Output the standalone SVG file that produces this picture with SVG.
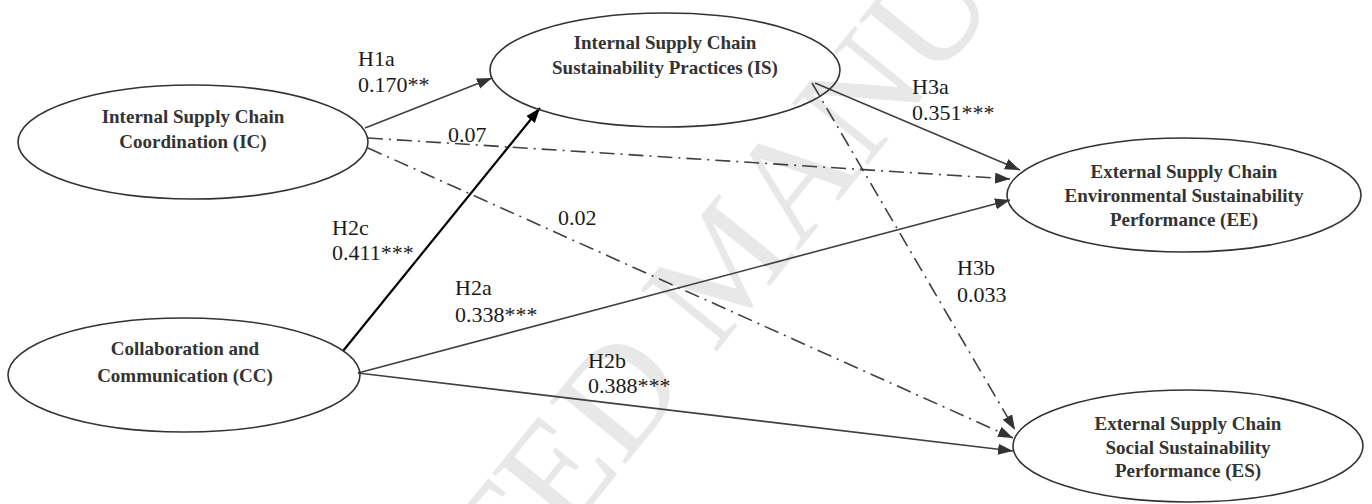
<svg xmlns="http://www.w3.org/2000/svg" width="1372" height="504" viewBox="0 0 1372 504">
<defs>
<style>
.node{fill:none;stroke:#333;stroke-width:1.6}
.nt{font-weight:bold;font-size:19px;fill:#333;text-anchor:middle}
.lb{font-size:22px;fill:#1a1a1a}
.ln{fill:none;stroke:#404040;stroke-width:1.6}
.dd{stroke-dasharray:15 6 2 6}
.blk{fill:none;stroke:#000;stroke-width:2.2}
.wm{font-size:149px;fill:#e8e8e8}
</style>
<marker id="ag" markerUnits="userSpaceOnUse" markerWidth="16" markerHeight="12" refX="15" refY="5.5" orient="auto"><path d="M0,0 L15,5.5 L0,11 z" fill="#333"/></marker>
<marker id="ab" markerUnits="userSpaceOnUse" markerWidth="16" markerHeight="12" refX="15" refY="5.5" orient="auto"><path d="M0,0 L15,5.5 L0,11 z" fill="#000"/></marker>
</defs>
<rect width="1372" height="504" fill="#fff"/>
<g font-family="Liberation Serif, DejaVu Serif, serif">
<text class="wm" transform="translate(206,982) rotate(-51)">ACCEPTED MANUSCRIPT</text>
<g id="connectors">
<line class="ln" x1="365" y1="128" x2="492" y2="78" marker-end="url(#ag)"/>
<line class="ln dd" x1="368" y1="138" x2="1010" y2="179" marker-end="url(#ag)"/>
<line class="ln dd" x1="368" y1="148" x2="1013" y2="438" marker-end="url(#ag)"/>
<line class="blk" x1="343" y1="351" x2="540" y2="108" marker-end="url(#ab)"/>
<line class="ln" x1="358" y1="373" x2="1010" y2="200" marker-end="url(#ag)"/>
<line class="ln" x1="358" y1="373" x2="1013" y2="451" marker-end="url(#ag)"/>
<line class="ln" x1="815" y1="83" x2="1020" y2="170" marker-end="url(#ag)"/>
<line class="ln dd" x1="812" y1="83" x2="1015" y2="430" marker-end="url(#ag)"/>
</g>
<g id="labels">
<text class="lb" x="358" y="66">H1a</text>
<text class="lb" x="358" y="92">0.170**</text>
<text class="lb" x="448" y="142">0.07</text>
<text class="lb" x="558" y="225">0.02</text>
<text class="lb" x="332" y="235">H2c</text>
<text class="lb" x="332" y="260">0.411***</text>
<text class="lb" x="455" y="295">H2a</text>
<text class="lb" x="455" y="322">0.338***</text>
<text class="lb" x="588" y="368">H2b</text>
<text class="lb" x="588" y="393">0.388***</text>
<text class="lb" x="912" y="94">H3a</text>
<text class="lb" x="912" y="120">0.351***</text>
<text class="lb" x="957" y="275">H3b</text>
<text class="lb" x="957" y="302">0.033</text>
</g>
<g id="IC">
<ellipse class="node" cx="193" cy="142" rx="175" ry="57"/>
<text class="nt" x="193" y="123">Internal Supply Chain</text>
<text class="nt" x="193" y="148">Coordination (IC)</text>
</g>
<g id="IS">
<ellipse class="node" cx="665" cy="70" rx="175" ry="57"/>
<text class="nt" x="665" y="49">Internal Supply Chain</text>
<text class="nt" x="665" y="74">Sustainability Practices (IS)</text>
</g>
<g id="CC">
<ellipse class="node" cx="184" cy="375" rx="176" ry="57"/>
<text class="nt" x="185" y="355">Collaboration and</text>
<text class="nt" x="185" y="382">Communication (CC)</text>
</g>
<g id="EE">
<ellipse class="node" cx="1184" cy="195" rx="177" ry="57"/>
<text class="nt" x="1184" y="178">External Supply Chain</text>
<text class="nt" x="1184" y="202">Environmental Sustainability</text>
<text class="nt" x="1184" y="226">Performance (EE)</text>
</g>
<g id="ES">
<ellipse class="node" cx="1188" cy="446" rx="175" ry="56"/>
<text class="nt" x="1188" y="430">External Supply Chain</text>
<text class="nt" x="1188" y="454">Social Sustainability</text>
<text class="nt" x="1188" y="477">Performance (ES)</text>
</g>
</g>
</svg>
